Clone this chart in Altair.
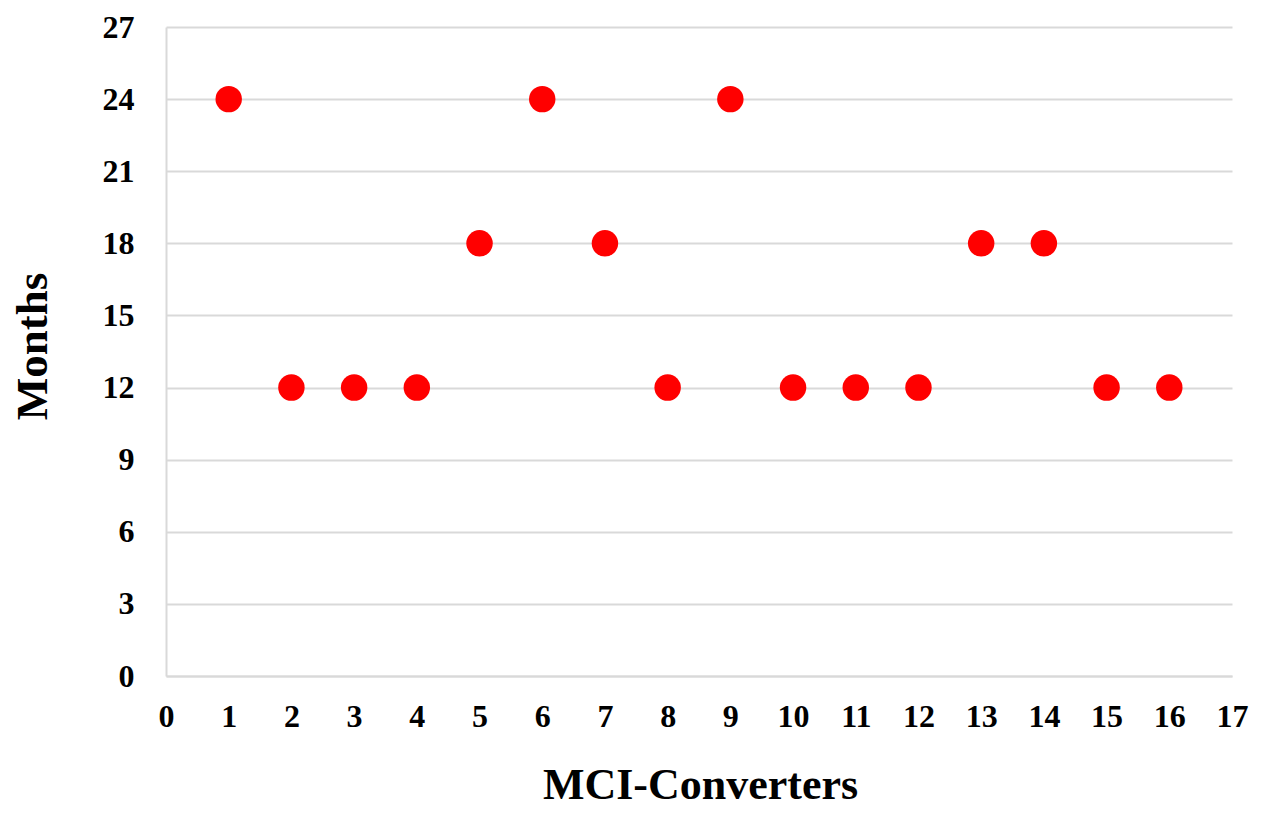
import altair as alt
import pandas as pd

converters = list(range(1, 17))
months = [24, 12, 12, 12, 18, 24, 18, 12, 24, 12, 12, 12, 18, 18, 12, 12]

df = pd.DataFrame({"converter": converters, "months": months})

FONT = "Liberation Serif"

chart = alt.Chart(df).mark_circle(size=700, color="#ff0000", opacity=1).encode(
    x=alt.X("converter:Q",
            scale=alt.Scale(domain=[0, 17], nice=False, zero=True),
            axis=alt.Axis(values=list(range(0, 18)), title="MCI-Converters",
                          grid=False, ticks=False, domainColor="#d9d9d9", domainWidth=2,
                          labelFont=FONT, labelFontSize=32, labelFontWeight="bold", labelColor="#000000",
                          labelPadding=25, labelFlush=False,
                          titleFont=FONT, titleFontSize=44, titleFontWeight="bold", titleColor="#000000",
                          titleX=534, titleY=109, titleBaseline="middle")),
    y=alt.Y("months:Q",
            scale=alt.Scale(domain=[0, 27], nice=False),
            axis=alt.Axis(values=list(range(0, 28, 3)), title="Months",
                          grid=True, gridColor="#d9d9d9", gridWidth=2,
                          ticks=False, domainColor="#d9d9d9", domainWidth=2,
                          labelFont=FONT, labelFontSize=32, labelFontWeight="bold", labelColor="#000000",
                          labelPadding=32, labelFlush=False,
                          titleFont=FONT, titleFontSize=45, titleFontWeight="bold", titleColor="#000000",
                          titleX=-134, titleY=319, titleBaseline="middle", titleAngle=-90)),
).properties(
    width=1066, height=649,
    autosize=alt.AutoSizeParams(type="none"),
    padding={"left": 158, "top": 19, "right": 24, "bottom": 134},
).configure_view(stroke=None)

chart.save("out.html", embed_options={"renderer": "svg", "actions": False})
